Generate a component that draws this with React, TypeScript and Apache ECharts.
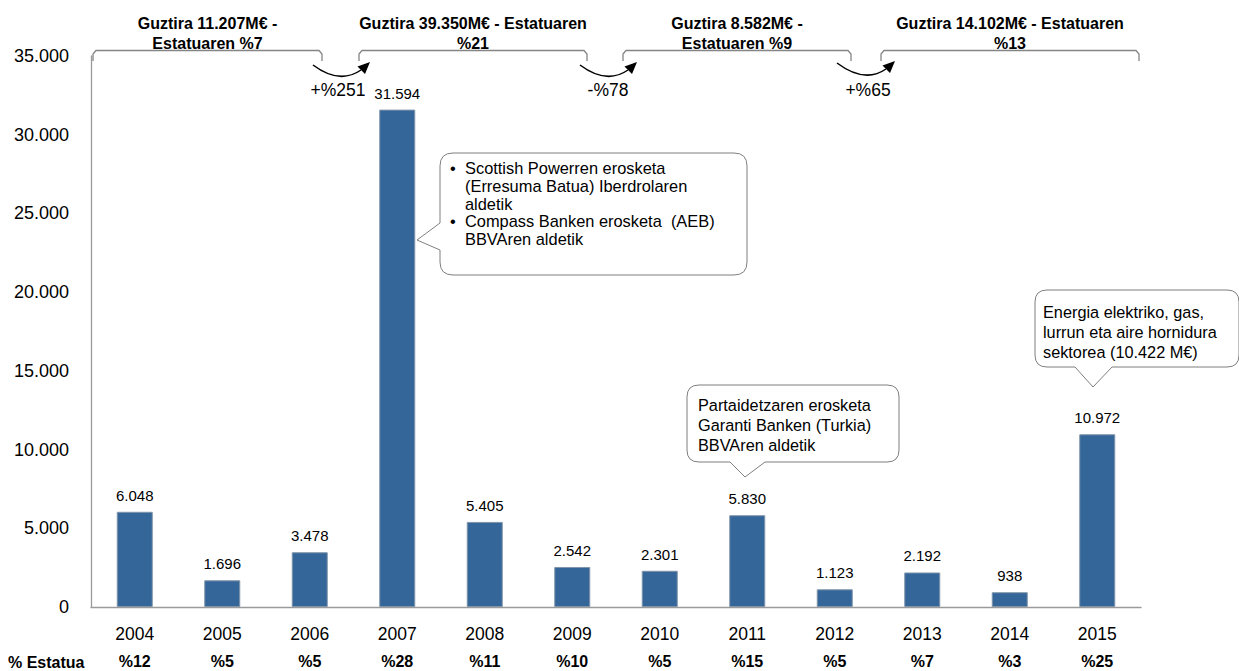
import React, { useEffect, useRef } from "react";
import * as echarts from "echarts";

// ---------- data ----------
const years = ["2004", "2005", "2006", "2007", "2008", "2009", "2010", "2011", "2012", "2013", "2014", "2015"];
const investment = [6048, 1696, 3478, 31594, 5405, 2542, 2301, 5830, 1123, 2192, 938, 10972];
const stateShare = ["%12", "%5", "%5", "%28", "%11", "%10", "%5", "%15", "%5", "%7", "%3", "%25"];
const yMax = 35000;
const yInterval = 5000;
const shareRowLabel = "% Estatua";
const groupTitles = [
  "Guztira 11.207M€ -\nEstatuaren %7",
  "Guztira 39.350M€ - Estatuaren\n%21",
  "Guztira 8.582M€ -\nEstatuaren %9",
  "Guztira 14.102M€ - Estatuaren\n%13",
];
const groupChanges = ["+%251", "-%78", "+%65"];
const callout1Lines = [
  "Scottish Powerren erosketa",
  "(Erresuma Batua) Iberdrolaren",
  "aldetik",
  "Compass Banken erosketa  (AEB)",
  "BBVAren aldetik",
];
const callout1Bullets = [0, 3];
const callout2Text = "Partaidetzaren erosketa\nGaranti Banken (Turkia)\nBBVAren aldetik";
const callout3Text = "Energia elektriko, gas,\nlurrun eta aire hornidura\nsektorea (10.422 M€)";

// ---------- shapes ----------
echarts.graphic.registerShape(
  "callout1",
  echarts.graphic.extendPath(
    "M 453 153 H 734 Q 747 153 747 166 V 262 Q 747 275 734 275 H 453 Q 440 275 440 262 V 250 L 417 240 L 440 223 V 166 Q 440 153 453 153 Z",
    {}
  )
);
echarts.graphic.registerShape(
  "callout2",
  echarts.graphic.extendPath(
    "M 699 385 H 887 Q 899 385 899 397 V 450 Q 899 462 887 462 H 765 L 745 477 L 730 462 H 699 Q 687 462 687 450 V 397 Q 687 385 699 385 Z",
    {}
  )
);
echarts.graphic.registerShape(
  "callout3",
  echarts.graphic.extendPath(
    "M 1047 290 H 1227 Q 1239 290 1239 302 V 355 Q 1239 367 1227 367 H 1112 L 1093 387 L 1075 367 H 1047 Q 1035 367 1035 355 V 302 Q 1035 290 1047 290 Z",
    {}
  )
);

const FONT = '"Liberation Sans", Arial, sans-serif';
const fmt = (v: number) => String(v).replace(/\B(?=(\d{3})+(?!\d))/g, ".");

function bracket(x0: number, x1: number) {
  return {
    type: "polyline",
    shape: {
      points: [
        [x0, 61],
        [x0, 54],
        [x0 + 3, 50.5],
        [x1 - 3, 50.5],
        [x1, 54],
        [x1, 61],
      ],
    },
    style: { stroke: "#858585", lineWidth: 1.3, fill: null },
  };
}

function arrow(sx: number, sy: number, tx: number, ty: number) {
  return [
    {
      type: "bezierCurve",
      shape: {
        x1: sx,
        y1: sy,
        cpx1: sx + 20,
        cpy1: sy + 15,
        cpx2: tx - 22,
        cpy2: ty + 17,
        x2: tx - 9,
        y2: ty + 8,
      },
      style: { stroke: "#000", lineWidth: 1.5, fill: null },
    },
    {
      type: "polygon",
      shape: {
        points: [
          [tx, ty],
          [tx - 12.5, ty + 4.5],
          [tx - 5, ty + 12],
        ],
      },
      style: { fill: "#000" },
    },
  ];
}

export default function App() {
  const ref = useRef<HTMLDivElement>(null);

  useEffect(() => {
    if (!ref.current) return;
    const chart = echarts.init(ref.current, null, { renderer: "svg" });

    const brackets = [
      [93, 322],
      [359, 587],
      [623, 851],
      [881, 1139],
    ];
    const arrowPos = [
      [313, 65, 370, 62],
      [580, 65, 637, 62],
      [837, 63, 895, 61],
    ];
    const changePos = [
      [338, 90],
      [608, 90],
      [868, 90],
    ];

    const graphic: any[] = [];
    brackets.forEach((b, i) => {
      graphic.push(bracket(b[0], b[1]));
      graphic.push({
        type: "text",
        z: 10,
        style: {
          text: groupTitles[i],
          x: (b[0] + b[1]) / 2,
          y: 13,
          font: `bold 16px ${FONT}`,
          fill: "#000",
          align: "center",
          verticalAlign: "top",
          lineHeight: 20,
        },
      });
    });
    arrowPos.forEach((a, i) => {
      graphic.push(...arrow(a[0], a[1], a[2], a[3]));
      graphic.push({
        type: "text",
        style: {
          text: groupChanges[i],
          x: changePos[i][0],
          y: changePos[i][1],
          font: `17.5px ${FONT}`,
          fill: "#000",
          align: "center",
          verticalAlign: "middle",
        },
      });
    });

    // callouts
    graphic.push({
      type: "callout1",
      x: 0,
      y: 0,
      style: { fill: "#fff", stroke: "#7f7f7f", lineWidth: 1 },
    });
    graphic.push({
      type: "text",
      style: {
        text: callout1Lines.join("\n"),
        x: 465,
        y: 159,
        font: `16.4px ${FONT}`,
        fill: "#000",
        align: "left",
        verticalAlign: "top",
        lineHeight: 17.8,
      },
    });
    callout1Bullets.forEach((li) => {
      graphic.push({
        type: "text",
        style: {
          text: "•",
          x: 450,
          y: 159 + li * 17.8,
          font: `16.4px ${FONT}`,
          fill: "#000",
          align: "left",
          verticalAlign: "top",
          lineHeight: 17.8,
        },
      });
    });
    graphic.push({
      type: "callout2",
      x: 0,
      y: 0,
      style: { fill: "#fff", stroke: "#7f7f7f", lineWidth: 1 },
    });
    graphic.push({
      type: "text",
      style: {
        text: callout2Text,
        x: 698,
        y: 395,
        font: `16.3px ${FONT}`,
        fill: "#000",
        align: "left",
        verticalAlign: "top",
        lineHeight: 20,
      },
    });
    graphic.push({
      type: "callout3",
      x: 0,
      y: 0,
      style: { fill: "#fff", stroke: "#7f7f7f", lineWidth: 1 },
    });
    graphic.push({
      type: "text",
      style: {
        text: callout3Text,
        x: 1043,
        y: 302,
        font: `16.3px ${FONT}`,
        fill: "#000",
        align: "left",
        verticalAlign: "top",
        lineHeight: 20,
      },
    });
    graphic.push({
      type: "text",
      style: {
        text: shareRowLabel,
        x: 8,
        y: 662,
        font: `bold 16px ${FONT}`,
        fill: "#000",
        align: "left",
        verticalAlign: "middle",
      },
    });

    chart.setOption({
      animation: false,
      backgroundColor: "#fff",
      textStyle: { fontFamily: FONT },
      grid: { left: 91, right: 98, top: 56, bottom: 64, containLabel: false },
      xAxis: [
        {
          type: "category",
          data: years,
          axisLine: { show: true, lineStyle: { color: "#9a9a9a", width: 1.3 } },
          axisTick: { show: false },
          axisLabel: { color: "#000", fontSize: 17.5, margin: 18, fontFamily: FONT },
        },
        {
          type: "category",
          data: stateShare,
          position: "bottom",
          offset: 38,
          axisLine: { show: false },
          axisTick: { show: false },
          axisLabel: { color: "#000", fontSize: 16, fontWeight: "bold", margin: 8, fontFamily: FONT },
        },
      ],
      yAxis: {
        type: "value",
        min: 0,
        max: yMax,
        interval: yInterval,
        axisLine: { show: true, lineStyle: { color: "#9a9a9a", width: 1.3 } },
        axisTick: { show: false },
        splitLine: { show: false },
        axisLabel: { color: "#000", fontSize: 18, margin: 22, fontFamily: FONT, formatter: (v: number) => fmt(v) },
      },
      series: [
        {
          type: "bar",
          xAxisIndex: 0,
          data: investment,
          barWidth: 36,
          itemStyle: { color: "#346699", borderColor: "#8094aa", borderWidth: 1 },
          label: {
            show: true,
            position: "top",
            distance: 9,
            color: "#000",
            fontSize: 15,
            fontFamily: FONT,
            formatter: (p: any) => fmt(p.value),
          },
        },
      ],
      graphic,
    });

    return () => chart.dispose();
  }, []);

  return (
    <div
      ref={ref}
      style={{ position: "fixed", left: 0, top: 0, width: 1239, height: 671, background: "#fff" }}
    />
  );
}
